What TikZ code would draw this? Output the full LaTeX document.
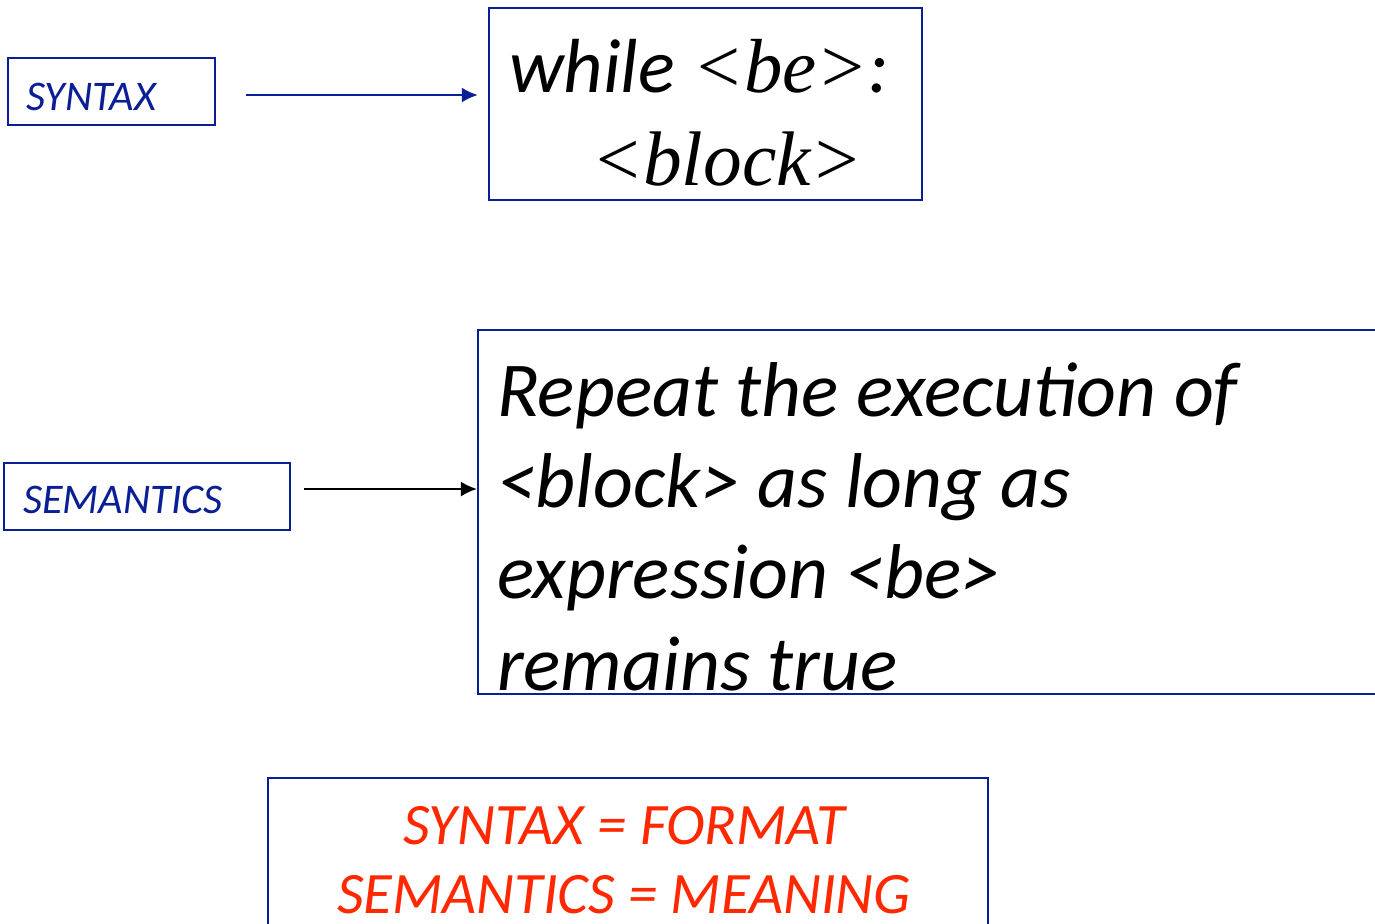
\documentclass[tikz,border=0pt]{standalone}
\usepackage{fontspec}
\setmainfont{Carlito}
\newfontfamily\timesfont{Liberation Serif}
\usetikzlibrary{arrows.meta}
\definecolor{slideblue}{RGB}{10,30,150}
\definecolor{slidered}{RGB}{255,40,0}
\begin{document}
\begin{tikzpicture}[x=0.01cm,y=-0.01cm,line width=0.6pt,
    box/.style={draw=slideblue,rectangle,inner sep=0pt},
    tag/.style={anchor=base west,inner sep=0pt,text=slideblue,font=\itshape\fontsize{12}{14}\selectfont},
    tip/.style={-{Latex[length=0.16cm,width=0.15cm]}}]
\useasboundingbox (0,0) rectangle (1375,923);
% syntax row
\node[box,minimum width=2.07cm,minimum height=0.67cm] (syn) at (111.5,91.5) {};
\node[tag] (syntxt) at (25,110) {SYNTAX};
\node[box,minimum width=4.33cm,minimum height=1.92cm] (code) at (705.5,104) {};
\node[anchor=base west,inner sep=0pt,font=\itshape\fontsize{21.8}{25}\selectfont] (while) at (508,92) {while {\timesfont <be>}:};
\node[anchor=base west,inner sep=0pt,font=\timesfont\itshape\fontsize{22}{25}\selectfont] (block) at (590,185) {<block>};
\coordinate (a1) at (246,95);
\draw[tip,slideblue,shorten >=0.1cm] (a1) -- (a1 -| code.west);
% semantics row
\node[box,minimum width=2.86cm,minimum height=0.67cm] (sem) at (147,496.5) {};
\node[tag] (semtxt) at (22,513) {SEMANTICS};
\node[box,line width=0.45pt,minimum width=9.22cm,minimum height=3.64cm] (meaning) at (939,512) {};
\node[anchor=base west,inner sep=0pt,align=left,font=\itshape\fontsize{22.1}{25.9}\selectfont] (mtxt) at (496,690)
  {Repeat the execution of\\<block> as long as\\expression <be>\\remains true};
\coordinate (a2) at (304,489);
\draw[tip,black] (a2) -- (a2 -| meaning.west);
% summary box
\node[box,minimum width=7.2cm,minimum height=1.82cm] (sum) at (628,869) {};
\node[anchor=base,inner sep=0pt,align=center,text=slidered,font=\itshape\fontsize{16.7}{19.6}\selectfont] (sumtxt) at (624,913)
  {SYNTAX = FORMAT\\SEMANTICS = MEANING};
\end{tikzpicture}
\end{document}
